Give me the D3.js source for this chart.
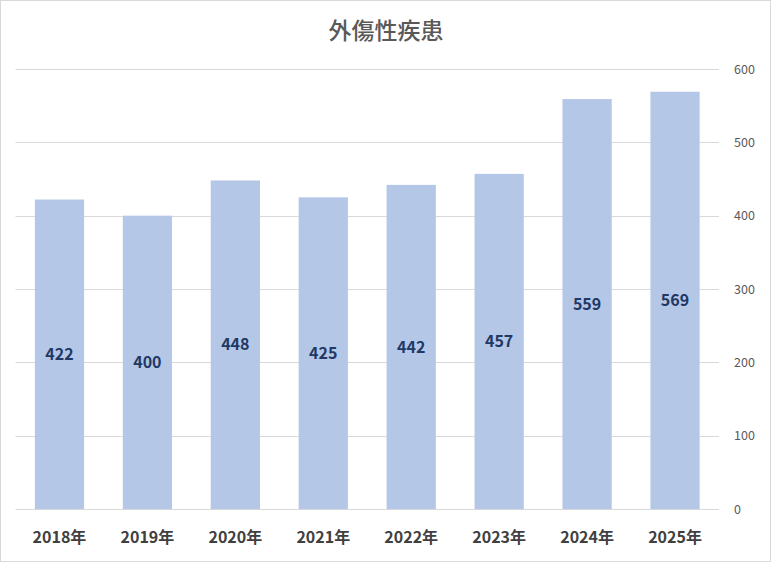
<!DOCTYPE html>
<html><head><meta charset="utf-8">
<script src="https://cdn.jsdelivr.net/npm/d3@7"></script>
<style>body{margin:0;background:#fff}svg{display:block}</style>
</head><body>
<script>
const categories = ["2018年","2019年","2020年","2021年","2022年","2023年","2024年","2025年"];
const values = [422,400,448,425,442,457,559,569];
const yTicks = [0,100,200,300,400,500,600];
const title = "外傷性疾患";

(function(){
const W = 771, H = 562;
const svg = d3.select("body").append("svg").attr("width", W).attr("height", H);
svg.append("rect").attr("x",0.5).attr("y",0.5).attr("width",W-1).attr("height",H-1)
  .attr("fill","#fff").attr("stroke","#d9d9d9");

const mLeft = 15.5, mRight = 719, mTop = 69, mBottom = 509;
const x = d3.scaleBand().domain(categories).range([mLeft, mRight]).paddingInner(0.44).paddingOuter(0.22);
const y = d3.scaleLinear().domain([0,600]).range([mBottom, mTop]);

const font = "'Noto Sans CJK JP', 'Noto Sans', sans-serif";

svg.append("g").selectAll("line").data(yTicks).join("line")
  .attr("x1", mLeft).attr("x2", mRight)
  .attr("y1", d => Math.round(y(d))+0.5).attr("y2", d => Math.round(y(d))+0.5)
  .attr("stroke", "#d9d9d9").attr("stroke-width", 1);

const yAxis = d3.axisRight(y).tickValues(yTicks).tickSize(0).tickPadding(0);
const ga = svg.append("g").attr("transform", `translate(734,0)`).call(yAxis);
ga.select(".domain").remove();
ga.selectAll("text").attr("font-family", font).attr("font-size", 12.5).attr("fill", "#595959");

svg.append("g").selectAll("rect").data(values).join("rect")
  .attr("x", (d,i) => x(categories[i])).attr("width", x.bandwidth())
  .attr("y", d => y(d)).attr("height", d => y(0) - y(d))
  .attr("fill", "#b4c7e7");

svg.append("g").selectAll("text").data(values).join("text")
  .attr("x", (d,i) => x(categories[i]) + x.bandwidth()/2)
  .attr("y", d => (y(d)+y(0))/2)
  .attr("dy", "0.35em").attr("text-anchor","middle")
  .attr("font-family", font).attr("font-size", 16).attr("font-weight","bold")
  .attr("fill", "#1f3864").text(d => d);

const xAxis = d3.axisBottom(x).tickSize(0).tickPadding(0);
const gx = svg.append("g").attr("transform", `translate(0,537)`).call(xAxis);
gx.select(".domain").remove();
gx.selectAll("text").attr("dy","0.35em").attr("font-family", font).attr("font-size", 16)
  .attr("font-weight","bold").attr("fill","#404040");

svg.append("text").attr("x", 386).attr("y", 31).attr("dy","0.35em").attr("text-anchor","middle")
  .attr("font-family", font).attr("font-size", 23).attr("font-weight", 500).attr("fill","#595959").text(title);
})();
</script>
</body></html>
